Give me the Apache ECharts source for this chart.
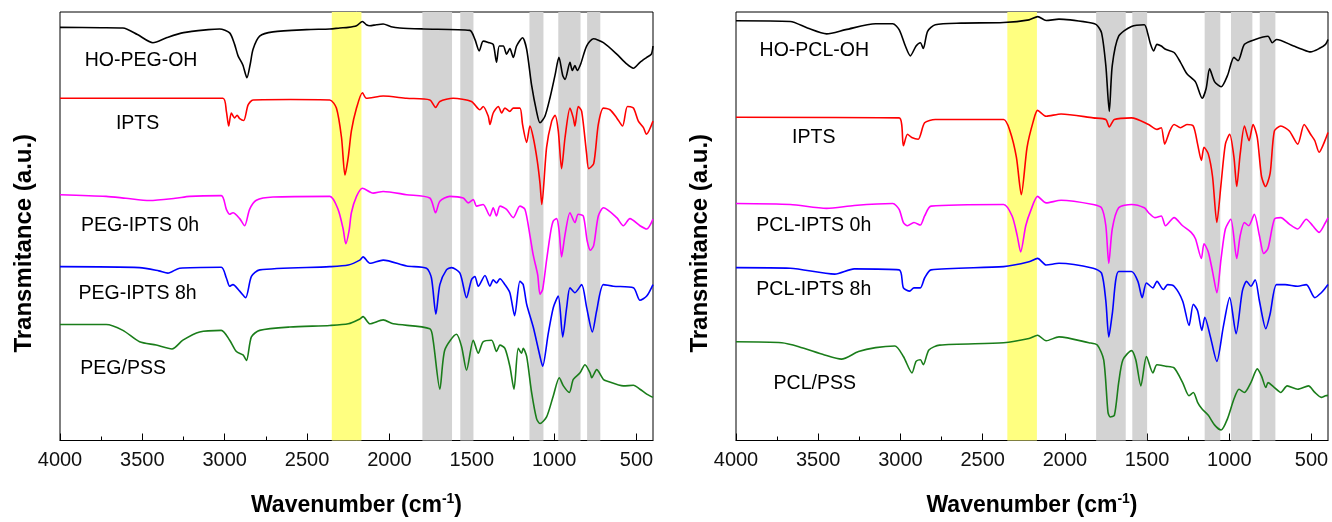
<!DOCTYPE html>
<html>
<head>
<meta charset="utf-8">
<script src="https://cdn.jsdelivr.net/npm/echarts@6/dist/echarts.min.js"></script>
<style>
html,body{margin:0;padding:0;background:#fff;}
#chart{width:1332px;height:522px;}
</style>
</head>
<body>
<div id="chart"></div>
<script>
// ---------- data: [wavenumber (cm-1), transmittance (a.u., offset stacked)] ----------
const majorTicks = [500, 1000, 1500, 2000, 2500, 3000, 3500, 4000];
const minorTicks = [750, 1250, 1750, 2250, 2750, 3250, 3750];

const pegLabels = ["HO-PEG-OH", "IPTS", "PEG-IPTS 0h", "PEG-IPTS 8h", "PEG/PSS"];
const pclLabels = ["HO-PCL-OH", "IPTS", "PCL-IPTS 0h", "PCL-IPTS 8h", "PCL/PSS"];

const hoPegOh = [[4000,42.13],[3750,42.10],[3618,42.07],[3530,41.40],[3436,40.57],[3350,41.10],[3250,41.60],[3100,41.90],[3031,41.97],[2970,41.57],[2940,40.40],[2919,39.23],[2890,38.30],[2865,37.00],[2845,38.40],[2828,39.90],[2788,41.23],[2707,41.67],[2504,41.90],[2362,41.97],[2301,42.07],[2250,42.13],[2200,42.30],[2164,42.73],[2140,42.40],[2119,42.30],[2080,42.40],[2038,42.47],[1990,42.20],[1937,42.07],[1795,41.97],[1512,41.83],[1481,40.90],[1455,39.73],[1431,40.73],[1400,40.60],[1370,40.40],[1350,38.57],[1333,40.23],[1309,40.23],[1289,39.40],[1269,39.97],[1248,39.07],[1228,40.23],[1192,41.07],[1167,39.90],[1137,36.23],[1107,33.57],[1086,32.40],[1056,33.07],[1026,34.90],[995,37.23],[971,39.07],[948,37.23],[934,36.83],[904,38.57],[890,37.73],[874,38.23],[860,37.73],[839,38.40],[803,40.23],[762,40.97],[701,40.57],[620,39.40],[560,38.40],[519,37.97],[479,38.57],[438,39.07],[410,39.40],[400,40.23]];
const iptsA = [[4000,34.90],[3500,34.90],[3011,34.90],[2990,33.57],[2976,32.07],[2960,33.40],[2940,32.90],[2925,33.17],[2909,32.83],[2885,32.63],[2858,34.23],[2828,34.73],[2600,34.77],[2362,34.73],[2322,33.90],[2291,30.90],[2270,27.07],[2250,28.90],[2231,31.57],[2200,33.90],[2164,35.47],[2140,34.90],[2038,35.13],[1896,34.90],[1755,34.73],[1720,33.97],[1694,34.57],[1613,34.90],[1502,34.57],[1451,33.73],[1431,34.07],[1400,33.07],[1390,32.23],[1370,33.40],[1339,34.07],[1319,33.40],[1299,33.90],[1269,33.57],[1248,33.90],[1208,33.90],[1192,32.23],[1167,30.40],[1147,32.07],[1127,30.90],[1103,28.57],[1086,26.23],[1075,24.07],[1046,29.90],[1015,32.57],[995,33.17],[975,31.57],[955,27.73],[934,30.90],[904,33.90],[884,32.90],[874,32.07],[854,34.07],[833,33.57],[803,29.23],[790,27.73],[760,28.23],[732,32.23],[701,33.90],[661,33.73],[620,32.90],[585,32.07],[555,34.07],[519,33.90],[489,32.57],[458,31.90],[440,31.23],[400,32.57]];
const pegIpts0h = [[4000,25.07],[3720,24.90],[3600,24.70],[3456,24.47],[3300,24.70],[3213,24.90],[3021,24.97],[2990,23.57],[2970,23.07],[2950,23.23],[2909,22.63],[2879,21.90],[2849,23.57],[2808,24.50],[2707,24.83],[2362,24.90],[2312,23.57],[2281,21.57],[2265,20.07],[2245,21.40],[2231,23.23],[2200,24.90],[2164,25.73],[2099,25.23],[2038,25.40],[1896,25.07],[1755,24.73],[1720,23.23],[1694,24.40],[1634,24.90],[1552,24.73],[1522,24.23],[1491,24.57],[1471,23.90],[1431,24.07],[1390,22.90],[1370,23.73],[1350,22.90],[1329,23.90],[1289,23.57],[1248,22.73],[1208,23.90],[1177,23.57],[1147,20.90],[1127,18.90],[1100,16.90],[1086,14.90],[1070,15.40],[1046,18.40],[1020,21.40],[1005,22.40],[985,22.63],[970,21.40],[955,18.73],[935,20.90],[904,23.23],[874,22.23],[854,23.07],[823,22.90],[800,20.40],[780,19.40],[760,19.90],[732,22.90],[701,23.73],[620,22.73],[580,21.90],[540,22.63],[479,21.90],[438,21.57],[400,22.57]];
const pegIpts8h = [[4000,17.73],[3517,17.63],[3400,17.30],[3345,17.07],[3274,17.57],[3021,17.67],[2990,16.57],[2970,15.73],[2950,15.90],[2909,15.23],[2873,14.57],[2838,16.73],[2788,17.40],[2362,17.73],[2250,17.90],[2180,18.40],[2160,18.73],[2119,18.07],[2038,18.40],[1896,17.80],[1775,17.57],[1745,16.57],[1718,12.90],[1694,15.90],[1654,17.40],[1623,17.63],[1572,17.07],[1532,14.57],[1502,16.40],[1481,16.73],[1461,15.73],[1420,16.83],[1390,15.73],[1370,16.40],[1350,16.07],[1329,16.50],[1299,15.90],[1269,15.07],[1240,12.73],[1208,16.23],[1188,15.90],[1167,13.90],[1127,11.57],[1086,8.57],[1070,7.57],[1036,10.90],[1005,13.57],[975,14.73],[948,10.57],[924,13.57],[904,15.57],[874,15.07],[833,15.90],[803,13.57],[768,11.07],[742,13.23],[701,15.90],[641,15.73],[519,15.57],[479,14.30],[438,14.73],[400,15.90]];
const pegPss = [[4000,11.83],[3720,11.83],[3618,11.23],[3517,10.07],[3416,9.73],[3320,9.33],[3254,10.23],[3152,11.07],[3021,11.23],[2970,10.23],[2929,9.07],[2889,8.73],[2868,8.17],[2838,10.57],[2788,11.23],[2605,11.57],[2362,11.73],[2250,11.90],[2180,12.40],[2160,12.63],[2119,11.90],[2038,12.30],[1977,11.90],[1755,11.40],[1735,10.23],[1694,5.23],[1664,9.23],[1593,10.83],[1562,9.57],[1532,7.17],[1491,10.23],[1461,8.90],[1431,10.07],[1380,10.23],[1350,9.07],[1329,9.73],[1299,9.40],[1269,7.57],[1244,5.23],[1218,9.40],[1198,8.90],[1188,9.40],[1167,8.57],[1137,4.90],[1107,2.23],[1086,1.73],[1046,2.40],[1005,4.57],[969,6.40],[944,5.57],[908,4.90],[884,6.23],[843,6.90],[813,7.73],[782,6.90],[772,6.40],[742,7.23],[701,6.23],[681,6.07],[580,5.57],[519,5.63],[479,5.23],[438,4.73],[400,4.40]];

const hoPclOh = [[4000,42.80],[3670,42.73],[3566,42.07],[3449,41.47],[3333,41.90],[3151,42.50],[3047,42.50],[3008,41.90],[2970,40.23],[2940,39.23],[2905,40.23],[2879,40.57],[2861,39.97],[2835,41.73],[2788,42.40],[2632,42.57],[2373,42.63],[2218,42.90],[2165,43.23],[2114,42.83],[2036,42.97],[1854,42.63],[1808,42.40],[1777,41.57],[1751,38.23],[1730,33.57],[1712,38.23],[1673,41.23],[1595,42.23],[1517,42.40],[1497,41.57],[1479,40.40],[1460,39.73],[1440,40.40],[1414,40.23],[1388,39.90],[1336,39.57],[1297,38.57],[1258,37.40],[1206,36.57],[1165,34.90],[1141,35.90],[1120,37.90],[1089,36.57],[1050,36.07],[1011,37.23],[972,39.07],[947,38.73],[908,40.40],[843,40.90],[765,41.23],[739,40.57],[713,40.90],[609,40.23],[558,39.90],[506,39.63],[454,39.97],[415,40.40],[400,40.90]];
const iptsB = [[4000,32.97],[3008,32.90],[2982,30.07],[2957,31.23],[2931,30.90],[2892,30.73],[2853,32.40],[2788,32.73],[2373,32.73],[2334,31.57],[2295,28.90],[2265,25.07],[2230,29.90],[2192,32.57],[2166,33.67],[2114,33.07],[2023,33.30],[1828,32.90],[1751,32.73],[1730,31.97],[1699,32.73],[1595,32.90],[1491,32.23],[1440,31.73],[1414,31.90],[1393,30.23],[1362,31.57],[1336,32.23],[1297,31.90],[1258,32.23],[1219,32.07],[1193,30.23],[1170,28.57],[1154,29.90],[1128,29.23],[1102,26.90],[1076,22.23],[1050,26.23],[1024,30.23],[998,31.23],[972,28.90],[955,25.90],[934,29.23],[908,32.07],[880,30.57],[856,32.23],[830,30.90],[804,26.90],[780,25.90],[752,27.23],[726,31.57],[687,32.07],[635,31.57],[584,30.23],[545,32.23],[506,31.23],[480,30.57],[454,29.40],[415,30.73],[400,31.40]];
const pclIpts0h = [[4000,24.17],[3670,24.07],[3449,23.67],[3281,23.97],[3047,24.17],[3008,23.57],[2982,22.23],[2957,21.90],[2918,22.23],[2879,21.97],[2853,22.90],[2814,23.90],[2373,24.07],[2321,22.90],[2290,20.90],[2269,19.23],[2238,21.90],[2205,23.57],[2166,24.90],[2114,24.23],[2023,24.50],[1828,24.07],[1777,23.73],[1751,21.90],[1733,18.07],[1712,21.57],[1673,23.73],[1595,24.07],[1517,23.73],[1491,23.23],[1453,22.73],[1414,22.90],[1388,21.90],[1336,22.73],[1284,21.90],[1232,21.23],[1206,20.57],[1170,18.57],[1154,20.07],[1128,19.23],[1102,17.23],[1076,15.07],[1050,18.57],[1024,21.57],[991,22.57],[955,18.57],[934,20.90],[908,22.23],[882,21.90],[848,23.07],[817,20.90],[791,19.07],[765,19.57],[726,22.57],[687,22.73],[635,22.07],[584,21.57],[532,22.57],[493,21.90],[454,21.23],[415,22.23],[400,22.70]];
const pclIpts8h = [[4000,17.63],[3670,17.57],[3400,16.97],[3281,17.50],[3008,17.40],[2982,15.57],[2944,15.23],[2918,15.57],[2879,15.57],[2853,16.57],[2814,17.40],[2373,17.73],[2218,18.23],[2166,18.57],[2114,17.90],[2036,18.07],[1828,17.57],[1777,17.07],[1751,14.23],[1733,10.57],[1712,12.90],[1673,17.23],[1595,17.23],[1556,16.23],[1530,14.57],[1504,16.07],[1465,15.57],[1440,16.23],[1401,15.40],[1375,15.90],[1336,15.73],[1284,14.23],[1245,11.73],[1219,13.90],[1193,13.23],[1167,11.23],[1149,12.57],[1115,10.57],[1076,8.07],[1037,11.57],[998,14.57],[959,10.90],[921,15.23],[895,16.23],[869,15.73],[843,16.40],[817,14.23],[778,11.40],[752,12.90],[713,15.90],[661,15.90],[584,15.73],[532,15.90],[480,14.57],[441,15.07],[415,15.57],[400,15.90]];
const pclPss = [[4000,10.07],[3722,9.97],[3618,9.57],[3462,8.73],[3359,8.30],[3255,9.07],[3151,9.47],[3034,9.63],[2982,8.57],[2930,6.90],[2905,8.07],[2879,8.23],[2861,7.73],[2827,9.23],[2762,9.73],[2373,9.97],[2218,10.40],[2166,10.73],[2114,10.17],[2036,10.57],[1854,9.97],[1803,9.73],[1764,8.23],[1738,2.90],[1725,2.40],[1699,2.57],[1673,5.90],[1647,8.23],[1595,9.17],[1569,8.23],[1538,5.57],[1504,8.57],[1465,6.90],[1440,7.73],[1388,7.57],[1336,7.40],[1284,5.90],[1245,4.57],[1219,4.90],[1193,3.90],[1167,3.23],[1128,2.57],[1089,1.57],[1050,1.07],[1011,2.23],[972,4.23],[941,5.23],[908,4.90],[869,5.90],[830,7.30],[804,6.57],[778,5.40],[765,5.90],[726,5.40],[687,4.90],[648,5.57],[584,5.23],[519,5.57],[480,4.90],[441,4.40],[415,4.57],[400,4.60]];

// highlighted wavenumber bands [from, to]
const yellowBand = [2350, 2170];
const greyBandsPeg = [[1800, 1620], [1570, 1490], [1150, 1065], [975, 840], [800, 720]];
const greyBandsPcl = [[1810, 1630], [1590, 1500], [1150, 1055], [990, 860], [815, 720]];

// ---------- chart ----------
const FONT = "'Liberation Sans', Arial, sans-serif";
const colors = ['#000000', '#ff0000', '#ff00ff', '#0000ff', '#1a7d1a'];
const pegSeries = [hoPegOh, iptsA, pegIpts0h, pegIpts8h, pegPss];
const pclSeries = [hoPclOh, iptsB, pclIpts0h, pclIpts8h, pclPss];
const pegLabelPos = [[3508, 38.7], [3529, 32.3], [3514, 21.9], [3529, 15.0], [3617, 7.3]];
const pclLabelPos = [[3524, 39.75], [3527, 30.9], [3527, 21.9], [3527, 15.35], [3521, 5.85]];

const grids = [
  {left: 60, top: 12, width: 593, height: 437},
  {left: 736, top: 12, width: 592, height: 437}
].map(g => Object.assign(g, {show: true, borderColor: '#000', borderWidth: 1, backgroundColor: 'transparent', containLabel: false}));

const xAxes = [], yAxes = [];
[0, 1].forEach(gi => {
  xAxes.push({
    type: 'value', gridIndex: gi, min: 400, max: 4000, inverse: true,
    name: 'Wavenumber (cm{sup|-1})', nameLocation: 'middle', nameGap: 52,
    nameTextStyle: {fontFamily: FONT, fontSize: 23, fontWeight: 'bold', color: '#000',
      rich: {sup: {fontFamily: FONT, fontSize: 14, fontWeight: 'bold', color: '#000', verticalAlign: 'top', padding: [0, 0, 12, 0]}}},
    axisLine: {show: true, lineStyle: {color: '#000', width: 1}},
    axisTick: {show: true, inside: true, length: 7, customValues: majorTicks, lineStyle: {color: '#000'}},
    axisLabel: {show: true, customValues: majorTicks, formatter: v => String(v), fontFamily: FONT, fontSize: 20, color: '#111', margin: 10},
    splitLine: {show: false}
  });
  xAxes.push({
    type: 'value', gridIndex: gi, min: 400, max: 4000, inverse: true, position: 'bottom',
    axisLine: {show: false},
    axisTick: {show: true, inside: true, length: 4, customValues: minorTicks, lineStyle: {color: '#000'}},
    axisLabel: {show: false},
    splitLine: {show: false}
  });
  yAxes.push({
    type: 'value', gridIndex: gi, min: 0, max: 43.7,
    name: 'Transmitance (a.u.)', nameLocation: 'middle', nameGap: 24, nameRotate: 90,
    nameTextStyle: {fontFamily: FONT, fontSize: 24, fontWeight: 'bold', color: '#000', padding: [0, 34, 0, 0]},
    axisLine: {show: false}, axisTick: {show: false}, axisLabel: {show: false}, splitLine: {show: false}
  });
});

const series = [];
function bandSeries(gi, greys) {
  const data = [[{xAxis: yellowBand[0], itemStyle: {color: '#ffff80'}}, {xAxis: yellowBand[1]}]];
  greys.forEach(b => data.push([{xAxis: b[0], itemStyle: {color: '#d3d3d3'}}, {xAxis: b[1]}]));
  return {
    type: 'line', xAxisIndex: gi * 2, yAxisIndex: gi, data: [], z: 1, silent: true,
    markArea: {silent: true, data: data, itemStyle: {opacity: 1}}
  };
}
series.push(bandSeries(0, greyBandsPeg));
series.push(bandSeries(1, greyBandsPcl));

function addSpectra(gi, list, labels, pos) {
  list.forEach((d, i) => {
    series.push({
      type: 'line', name: labels[i], xAxisIndex: gi * 2, yAxisIndex: gi, data: d,
      showSymbol: false, symbol: 'none', smooth: 0.25, z: 3, silent: true,
      lineStyle: {color: colors[i], width: 1.6},
      itemStyle: {color: colors[i]},
      markPoint: {
        silent: true, symbol: 'circle', symbolSize: 0,
        data: [{coord: pos[i]}],
        label: {show: true, position: 'inside', formatter: labels[i], fontFamily: FONT, fontSize: 19.5, color: '#000'}
      }
    });
  });
}
addSpectra(0, pegSeries, pegLabels, pegLabelPos);
addSpectra(1, pclSeries, pclLabels, pclLabelPos);

const chart = echarts.init(document.getElementById('chart'), null, {renderer: 'canvas'});
chart.setOption({
  animation: false,
  backgroundColor: '#fff',
  grid: grids,
  xAxis: xAxes,
  yAxis: yAxes,
  series: series
});
</script>
</body>
</html>
